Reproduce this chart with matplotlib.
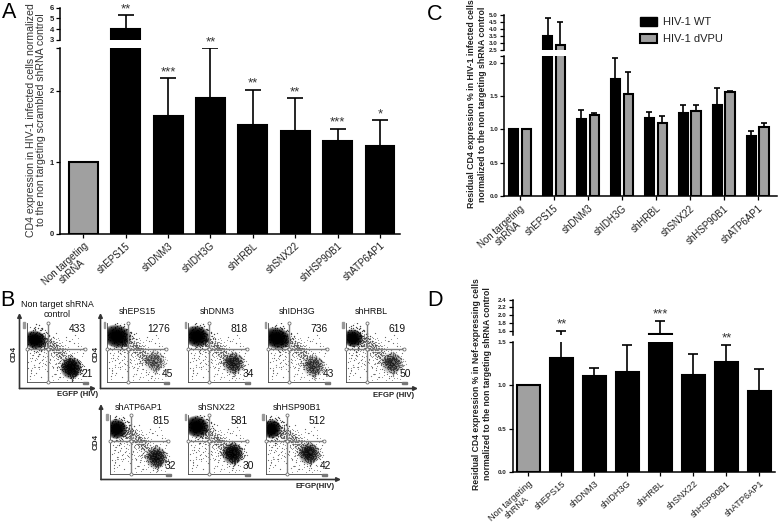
import matplotlib
matplotlib.use("Agg")
import matplotlib.pyplot as plt
from matplotlib.patches import Ellipse, Rectangle
import numpy as np

plt.rcParams['font.family'] = ['Liberation Sans', 'DejaVu Sans']

W, H = 778, 525

# panel A
genes_a = ['Non targeting\nshRNA', 'shEPS15', 'shDNM3', 'shIDH3G', 'shHRBL', 'shSNX22', 'shHSP90B1', 'shATP6AP1']
vals_a = [1, 4.0, 1.65, 1.9, 1.52, 1.44, 1.3, 1.23]
tops_a = [np.nan, 5.3, 2.17, 2.59, 2.01, 1.89, 1.47, 1.586]
stars_a = ['', '**', '***', '**', '**', '**', '***', '*']

# panel C
vals_c_wt = [1, 3.5, 1.16, 1.76, 1.17, 1.25, 1.36, 0.9]
tops_c_wt = [np.nan, 4.75, 1.29, 2.07, 1.26, 1.36, 1.62, 0.98]
vals_c_vpu = [1, 2.85, 1.22, 1.53, 1.1, 1.28, 1.56, 1.04]
tops_c_vpu = [np.nan, 4.45, 1.25, 1.86, 1.2, 1.37, 1.57, 1.1]

# panel D
genes_d = genes_a
vals_d = [1, 1.32, 1.11, 1.15, 1.53, 1.12, 1.27, 0.94]
tops_d = [np.nan, 1.6, 1.2, 1.47, 1.86, 1.36, 1.47, 1.19]
stars_d = ['', '**', '', '', '***', '', '**', '']

# panel B, percent of each plot frame
flow_names = ['Non target shRNA\ncontrol', 'shEPS15', 'shDNM3', 'shIDH3G', 'shHRBL', 'shATP6AP1', 'shSNX22', 'shHSP90B1']
flow_upper = ['433', '1276', '818', '736', '619', '815', '581', '512']
flow_lower = ['21', '45', '34', '43', '50', '32', '30', '42']
blob_x = [14, 16, 14, 14, 12, 11, 14, 10]
blob_y = [71, 77, 77, 74, 74, 76, 80, 76]
blob_w = [32, 40, 36, 40, 28, 28, 34, 26]
blob_h = [26, 32, 30, 30, 25, 28, 30, 27]
lower_x = [74, 78, 75, 75, 77, 77, 74, 72]
lower_y = [23, 34, 31, 26, 31, 27, 34, 34]
lower_dark = [1.0, 0.1, 0.45, 0.25, 0.3, 0.55, 0.85, 0.55]

trail_x = [22, 25, 27, 29, 31, 33, 28, 35, 37, 39, 34, 41, 43, 45, 40, 47, 49, 51, 46, 53, 55, 50, 57, 59, 54, 61, 63,
           58, 65, 60, 24, 30, 36, 42, 48, 52, 56, 62, 66, 33, 44, 38, 26, 32, 49, 57, 64, 68, 55, 46]
trail_y = [70, 74, 66, 71, 64, 69, 62, 66, 61, 65, 58, 60, 64, 57, 67, 59, 54, 58, 51, 55, 50, 62, 47, 52, 44, 46, 41,
           55, 43, 38, 64, 75, 72, 54, 63, 48, 57, 36, 49, 60, 69, 53, 78, 58, 46, 42, 34, 38, 35, 50]
speck_x = [5, 9, 3, 12, 18, 8, 25, 30, 15, 21, 6, 38, 44, 33, 52, 60, 68, 75, 83, 90, 72, 64, 55, 47, 94, 86, 79, 40,
           28, 17, 11, 4, 7, 13, 24, 35, 50, 58, 20, 10, 3, 16, 27, 42, 37, 70, 88, 92, 81, 66, 48, 31, 23, 6, 14]
speck_y = [48, 40, 33, 28, 44, 20, 36, 30, 14, 24, 9, 38, 25, 18, 32, 22, 12, 9, 14, 25, 6, 16, 8, 13, 48, 60, 66, 46,
           50, 52, 58, 57, 15, 36, 8, 7, 20, 28, 31, 46, 23, 55, 43, 10, 33, 70, 35, 15, 80, 76, 83, 88, 92, 94, 88]
cloud_dx = [-2, 3, -5, 6, 0, -8, 9, 4, -3, 7, -10, 2, -6, 11, -1, 5, -12, 8, -4, 1, 12, -7, 3, -9, 6, 0, -2, 10, -13, 4,
            -5, 14, 2, -11, 7, -1, 13, -6, 9, -3]
cloud_dy = [3, -2, 6, -7, 10, -1, 4, 9, -10, -12, 5, 14, -6, 1, -15, 12, 8, -9, 16, 0, -4, 12, -17, -7, 7, -5, 20, 13, 3,
            18, -13, -10, -20, 2, -14, 8, 9, 15, 15, -3]


fig = plt.figure(figsize=(W / 100, H / 100), dpi=100)


def px_axes(left, top, right, bottom, **kw):
    return fig.add_axes([left / W, 1 - bottom / H, (right - left) / W, (bottom - top) / H], **kw)


bg = px_axes(0, 0, W, H)
bg.set_xlim(0, W)
bg.set_ylim(H, 0)
bg.axis('off')


def broken(left, right, low_top, low_bot, up_top, up_bot, xlim, low_lim, up_lim, low_ticks, low_labels, up_ticks, up_labels, tick_fs):
    low = px_axes(left, low_top, right, low_bot)
    up = px_axes(left, up_top, right, up_bot)
    for a in (low, up):
        a.set_xlim(*xlim)
        a.patch.set_alpha(0)
        a.spines['top'].set_visible(False)
        a.spines['right'].set_visible(False)
        a.spines['left'].set_linewidth(1.1)
        a.spines['bottom'].set_linewidth(1.1)
        a.tick_params(axis='y', length=3, width=0.9, pad=1.5, labelsize=tick_fs)
    low.set_ylim(*low_lim)
    up.set_ylim(*up_lim)
    low.set_yticks(low_ticks, low_labels, fontweight='bold', color='#222222')
    up.set_yticks(up_ticks, up_labels, fontweight='bold', color='#222222')
    up.spines['bottom'].set_visible(False)
    up.set_xticks([])
    return low, up


def xlabels(ax, names, fs):
    ax.set_xticks(range(len(names)))
    ax.set_xticklabels(names, rotation=42, ha='right', rotation_mode='anchor', fontsize=fs, color='#222222',
                       multialignment='center', linespacing=1.0)
    ax.tick_params(axis='x', length=3, width=0.9, pad=2)


def bars(axs, x, vals, tops, width, colors, capsize, lw=1.5):
    vals = np.array(vals, dtype=float)
    tops = np.array(tops, dtype=float)
    for a in axs:
        a.bar(x, vals, width=width, color=colors, edgecolor='black', linewidth=lw, zorder=2)
        # skip error bars that end under this part of the broken axis
        shown = np.where(tops >= a.get_ylim()[0], tops, np.nan)
        a.errorbar(x, vals, yerr=[np.zeros(len(vals)), shown - vals], fmt='none', ecolor='black', elinewidth=1.2,
                   capsize=capsize, capthick=1.2, zorder=1)


def add_stars(ax, x, y, s):
    ax.annotate(s, xy=(x, y), xytext=(0, 0), textcoords='offset points', ha='center', va='bottom',
                fontsize=9.5, color='#333333', annotation_clip=False)


# A
pos_a = np.arange(8)
low_a, up_a = broken(60, 400, 47.7, 233.7, 7.7, 40, (-0.55, 7.47), (0, 2.6), (3, 6),
                     [0, 1, 2, 2.6], ['0', '1', '2', ''], [3, 4, 5, 6], ['3', '4', '5', '6'], 5.5)
colors_a = ['#a0a0a0'] + ['black'] * 7
bars((low_a, up_a), pos_a, vals_a, tops_a, 0.68, colors_a, 5.5)
xlabels(low_a, genes_a, 7)
for i, s in enumerate(stars_a):
    if s:
        target = up_a if tops_a[i] > 3 else low_a
        add_stars(target, i, tops_a[i], s)
bg.text(36, 120, 'CD4 expression in HIV-1 infected cells normalized\nto the non targeting scrambled shRNA control',
        rotation=90, ha='center', va='center', fontsize=7.6, color='#333333', linespacing=1.1)

# C
pos_c = np.arange(8)
off = 0.187
low_c, up_c = broken(504.3, 777, 56, 196.3, 14.7, 49.7, (-0.46, 7.57), (0, 2.1), (2.5, 5.0),
                     [0, 0.5, 1, 1.5, 2, 2.1], ['0.0', '0.5', '1.0', '1.5', '2.0', ''],
                     [2.5, 3, 3.5, 4, 4.5, 5], ['2.5', '3.0', '3.5', '4.0', '4.5', '5.0'], 4.5)
bars((low_c, up_c), pos_c - off, vals_c_wt, tops_c_wt, 0.27, 'black', 2.2)
bars((low_c, up_c), pos_c + off, vals_c_vpu, tops_c_vpu, 0.27, '#a0a0a0', 2.2)
xlabels(low_c, genes_a, 7)
bg.text(477, 104, 'Residual CD4 expression % in HIV-1 infected cells\nnormalized to the non targeting shRNA control',
        rotation=90, ha='center', va='center', fontsize=6.3, fontweight='bold', color='#222222', linespacing=1.15)
leg_handles = [Rectangle((0, 0), 1, 1, fc='black', ec='black'), Rectangle((0, 0), 1, 1, fc='#a0a0a0', ec='black', lw=1.5)]
fig.legend(leg_handles, ['HIV-1 WT', 'HIV-1 dVPU'], loc='upper left', bbox_to_anchor=(629.5 / W, 1 - 7 / H), frameon=False,
           fontsize=8, handlelength=1.55, handleheight=0.85, handletextpad=0.55, labelspacing=0.62, labelcolor='#222222')

# D
pos_d = np.arange(8)
low_d, up_d = broken(512.7, 775, 342, 472, 299.7, 334.7, (-0.475, 7.47), (0, 1.5), (1.5, 2.4),
                     [0, 0.5, 1, 1.5], ['0.0', '0.5', '1.0', '1.5'],
                     [1.6, 1.8, 2.0, 2.2, 2.4], ['1.6', '1.8', '2.0', '2.2', '2.4'], 4.5)
colors_d = ['#a0a0a0'] + ['black'] * 7
bars((low_d, up_d), pos_d, vals_d, tops_d, 0.69, colors_d, 3.8)
xlabels(low_d, genes_d, 6.6)
for i, s in enumerate(stars_d):
    if s:
        target = up_d if tops_d[i] > 1.5 else low_d
        add_stars(target, i, tops_d[i], s)
bg.text(482, 384, 'Residual CD4 expression % in Nef-expressing cells\nnormalized to the non targeting shRNA control',
        rotation=90, ha='center', va='center', fontsize=6.2, fontweight='bold', color='#222222', linespacing=1.15)

# B - frames in pixels: left, top
frames = [(26.7, 323), (107.3, 323), (188.3, 323), (268.3, 323), (345.7, 323), (110, 415), (188.3, 415), (265.7, 415)]
speck = (np.array(speck_x), np.array(speck_y))
trail = (np.array(trail_x), np.array(trail_y))
cloud = (np.array(cloud_dx), np.array(cloud_dy))
for i, (fx, fy) in enumerate(frames):
    ax = px_axes(fx, fy, fx + 60, fy + 58.5)
    ax.set_xlim(0, 100)
    ax.set_ylim(0, 100)
    ax.patch.set_alpha(0)
    ax.set_xticks([])
    ax.set_yticks([])
    for name, sp in ax.spines.items():
        sp.set_visible(name in ('left', 'bottom'))
        sp.set_linewidth(0.6)
        sp.set_color('#444444')
        sp.set_linestyle((0, (1, 1)))
    # background events, same hand-read layout turned about for more grain
    ax.scatter(speck[0], speck[1], s=0.8, color='#666666', linewidths=0)
    ax.scatter(100 - speck[1], speck[0] * 0.8, s=0.6, color='#888888', linewidths=0)
    ax.scatter(speck[1] * 0.9, speck[0] * 0.6 + 20, s=0.6, color='#888888', linewidths=0)
    # diagonal events
    for dx, dy, size, col in [(0, 0, 1.0, '#555555'), (3, -4, 0.8, '#666666'), (-3, 3, 0.8, '#666666'),
                              (5, 3, 0.6, '#888888'), (-6, -4, 0.6, '#888888'), (1, 5, 0.6, '#777777')]:
        ax.scatter(trail[0] + dx, trail[1] + dy, s=size, color=col, linewidths=0)
    # events round the populations, under the soft dark shapes
    for sx, sy in [(1.6, 0.9), (0.9, 1.4), (2.0, 0.5)]:
        ax.scatter(cloud[0] * sx + blob_x[i] + 3, cloud[1] * sy + blob_y[i], s=1.0, color='#444444', linewidths=0, zorder=1.5)
    d = lower_dark[i]
    for sx, sy in [(1, 1), (0.8, 0.6), (1.2, 0.8), (0.5, 1.1)]:
        ax.scatter(cloud[0] * sx + lower_x[i], cloud[1] * sy + lower_y[i], s=1.0, color='#444444', alpha=0.45 + 0.55 * d,
                   linewidths=0, zorder=1.5)
        ax.scatter(cloud[1] * sx + lower_x[i], cloud[0] * sy + lower_y[i], s=0.8, color='#555555', alpha=0.45 + 0.55 * d,
                   linewidths=0, zorder=1.5)
    # top left population
    for scale in np.linspace(1.25, 0.4, 40):
        ax.add_patch(Ellipse((blob_x[i], blob_y[i]), blob_w[i] * scale, blob_h[i] * scale, angle=-15, fc='black', ec='none',
                             alpha=0.09, zorder=2))
    # lower right population
    for scale in np.linspace(1.3, 0.25, 40):
        ax.add_patch(Ellipse((lower_x[i], lower_y[i]), 28 * scale, 30 * scale, fc='black', ec='none', alpha=0.065 * d, zorder=2))
    # gates
    gate = dict(color='#808080', lw=1.0, marker='o', ms=2.2, mfc='white', mec='#707070', mew=0.6, zorder=3, clip_on=False)
    ax.plot([35, 35, 35], [0, 56, 100], **gate)
    ax.plot([0, 35, 97], [56, 56, 56], **gate)
    ax.add_patch(Rectangle((94, -4), 8, 2.5, color='#777777', clip_on=False, zorder=3))
    ax.add_patch(Rectangle((-6, 92), 2.5, 10, color='#999999', clip_on=False, zorder=3))
    bg.text(fx + 51, fy + 6, flow_upper[i], ha='center', va='center', fontsize=7.4, color='#111111', zorder=5)
    bg.text(fx + 60, fy + 51, flow_lower[i], ha='center', va='center', fontsize=7.4, color='#111111', zorder=5)

title_x = [57.5, 137, 217.5, 297.5, 371, 139, 216.7, 296.7]
title_y = [309.5, 312, 312, 312, 312, 407.5, 407.5, 407.5]
for name, tx, ty in zip(flow_names, title_x, title_y):
    bg.text(tx, ty, name, ha='center', va='center', fontsize=6.4, color='#111111', multialignment='center')

arrow = dict(arrowstyle='-|>', color='#333333', lw=1.2, mutation_scale=6, shrinkA=0, shrinkB=0)
for x0, y0, x1, y1 in [(19.5, 388.5, 19.5, 313), (19.5, 388.5, 96, 388.5),
                       (100.5, 388.5, 100.5, 313), (100.5, 388.5, 418, 388.5),
                       (101, 479.5, 101, 404), (101, 479.5, 341, 479.5)]:
    bg.annotate('', xy=(x1, y1), xytext=(x0, y0), arrowprops=arrow)

for tx, ty in [(14, 354), (96, 354), (96, 442)]:
    bg.text(tx, ty, 'CD4', rotation=90, ha='center', va='center', fontsize=5.8, fontweight='bold', color='#222222')
bg.text(78, 394.5, 'EGFP (HIV)', ha='center', va='center', fontsize=5.6, fontweight='bold', color='#222222')
bg.text(394, 395.5, 'EFGP (HIV)', ha='center', va='center', fontsize=5.6, fontweight='bold', color='#222222')
bg.text(315, 486, 'EFGP(HIV)', ha='center', va='center', fontsize=5.6, fontweight='bold', color='#222222')

# panel letters
for letter, lx, ly in [('A', 2, 13), ('B', 0, 300), ('C', 427, 14), ('D', 427, 301)]:
    bg.text(lx, ly, letter, ha='left', va='center', fontsize=15.5, color='black')

fig.savefig('out.png', dpi=100)
